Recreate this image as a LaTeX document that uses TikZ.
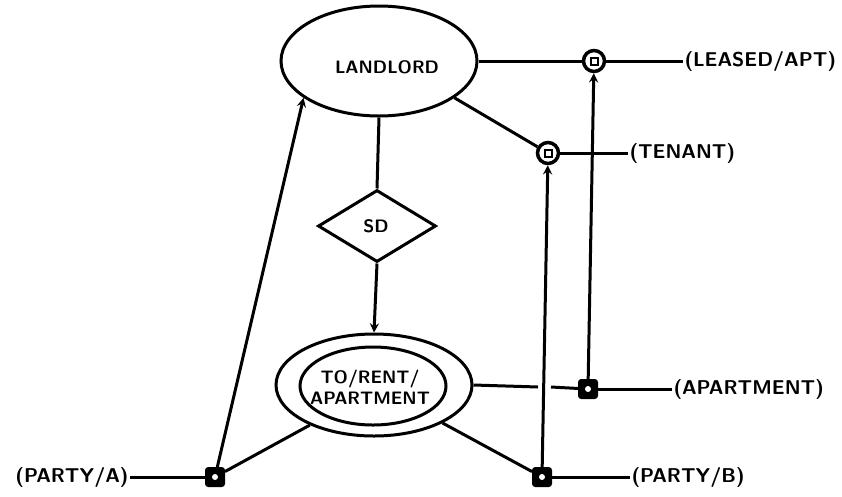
\documentclass[tikz,border=0pt]{standalone}
\usetikzlibrary{shapes.geometric}
\begin{document}
\begin{tikzpicture}[x=1pt, y=-1pt, line width=3pt,
  ent/.style = {draw, ellipse, inner sep=0pt},
  rel/.style = {draw, diamond, aspect=1.64, inner sep=0pt, minimum width=118pt, minimum height=72pt},
  key/.style = {draw, fill=black, rounded corners=2pt, minimum size=17pt, inner sep=0pt,
    path picture={\fill[white] (path picture bounding box.center) circle (3pt);}},
  ring/.style = {draw, circle, line width=3.5pt, minimum size=21pt, inner sep=0pt,
    path picture={\draw[line width=2pt, fill=white] ([shift={(-3.5pt,-3.5pt)}]path picture bounding box.center) rectangle ([shift={(3.5pt,3.5pt)}]path picture bounding box.center);}},
  word/.style = {font=\sffamily\bfseries\fontsize{18}{20}\selectfont, align=center},
  lbl/.style = {anchor=west, inner sep=0pt, font=\sffamily\bfseries\fontsize{20}{22}\selectfont}]
  \useasboundingbox (0,0) rectangle (842,496);
  % entities and relation
  \node[ent, minimum width=196pt, minimum height=110pt] (landlord) at (379,61) {};
  \node[word] (landlordtxt) at (387,67) {LANDLORD};
  \node[rel] (sd) at (377,226) {};
  \node[word] (sdtxt) at (376,226) {SD};
  \node[ent, minimum width=196pt, minimum height=102pt] (rentout) at (374,385) {};
  \node[ent, minimum width=146pt, minimum height=78pt] (rentin) at (373,386) {};
  \node[word, font=\sffamily\bfseries\fontsize{18}{21}\selectfont] (renttxt) at (370,387) {TO/RENT/\\APARTMENT};
  % keys and rings
  \node[ring] (leased) at (594,61) {};
  \node[ring] (tenant) at (548,153) {};
  \node[key] (apt) at (588,389) {};
  \node[key] (partyb) at (542,477) {};
  \node[key] (partya) at (215,477) {};
  % labels
  \node[lbl] (leasedlbl) at (683,61) {(LEASED/APT)};
  \node[lbl] (tenantlbl) at (628,153) {(TENANT)};
  \node[lbl] (aptlbl) at (672,389) {(APARTMENT)};
  \node[lbl] (partyblbl) at (630,477) {(PARTY/B)};
  \node[lbl, anchor=east] (partyalbl) at (130,477) {(PARTY/A)};
  \coordinate (gapl) at (538,387);
  \coordinate (gapr) at (551,387);
  % connectors
  \draw (landlord.east) to (leased);
  \draw (leased) to (leasedlbl.west);
  \draw (landlord.334) to (tenant);
  \draw (tenant) to (tenantlbl.west);
  \draw (landlord.south) to (sd.north);
  \draw[-stealth] (sd.south) to (rentout.north);
  \draw (rentout.east) to (gapl);
  \draw (gapr) to (apt);
  \draw (apt) to (aptlbl.west);
  \draw[-stealth] (apt) to (leased);
  \draw[-stealth] (partyb) to (tenant);
  \draw (partyb) to (partyblbl.west);
  \draw (partyb) to (rentout.331);
  \draw (partya) to (rentout.212);
  \draw[-stealth] (partya) to (landlord.206);
  \draw (partyalbl.east) to (partya);
\end{tikzpicture}
\end{document}
